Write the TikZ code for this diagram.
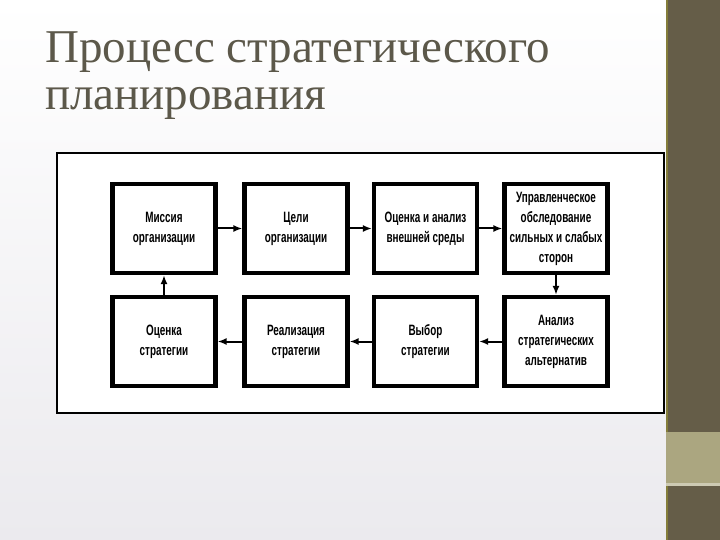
\documentclass[tikz,border=0pt]{standalone}
\usepackage{fontspec}
\setmainfont{Liberation Serif}
\newfontfamily\boxfont[FakeStretch=0.66]{Liberation Sans}
\usetikzlibrary{arrows.meta}
\definecolor{band}{RGB}{101,93,72}
\definecolor{khaki}{RGB}{171,166,128}
\definecolor{titlecol}{RGB}{92,88,74}
\definecolor{bgbottom}{RGB}{235,234,238}
\tikzset{
  stagebox/.style={draw=black, fill=white, line width=4.2bp, minimum width=103bp,
    minimum height=89bp, inner sep=0pt, align=center,
    font=\boxfont\bfseries\fontsize{15bp}{20bp}\selectfont},
  flow/.style={line width=2bp, -{Latex[length=9bp,width=7bp]}},
  titletext/.style={anchor=base west, inner sep=0pt, text=titlecol,
    font=\fontsize{47bp}{47bp}\selectfont}
}
\begin{document}
\begin{tikzpicture}[x=1bp, y=-1bp]
\useasboundingbox (0,0) rectangle (720,540);
% background
\shade[top color=white, bottom color=bgbottom] (0,0) rectangle (667,540);
\fill[band] (666,0) rectangle (720,540);
\fill[band!80!yellow] (666,0) rectangle (668,540);
\fill[khaki] (666,432) rectangle (720,486);
\fill[khaki!60!white] (666,483) rectangle (720,486);
% title
\node[titletext] (t1) at (45,63) {Процесс стратегического};
\node[titletext] (t2) at (45,110) {планирования};
% frame
\draw[line width=1.5bp, fill=white] (57,153) rectangle (664,413);
% boxes
\node[stagebox] (b1) at (164,228.5) {Миссия\\организации};
\node[stagebox] (b2) at (296,228.5) {Цели\\организации};
\node[stagebox] (b3) at (425.5,228.5) {Оценка и анализ\\внешней среды};
\node[stagebox] (b4) at (556,228.5) {Управленческое\\обследование\\сильных и слабых\\сторон};
\node[stagebox] (b5) at (164,341.5) {Оценка\\стратегии};
\node[stagebox] (b6) at (296,341.5) {Реализация\\стратегии};
\node[stagebox] (b7) at (425.5,341.5) {Выбор\\стратегии};
\node[stagebox] (b8) at (556,341.5) {Анализ\\стратегических\\альтернатив};
% connectors
\draw[flow] (b1) -- (b2);
\draw[flow] (b2) -- (b3);
\draw[flow] (b3) -- (b4);
\draw[flow] (b4) -- (b8);
\draw[flow] (b8) -- (b7);
\draw[flow] (b7) -- (b6);
\draw[flow] (b6) -- (b5);
\draw[flow] (b5) -- (b1);
\end{tikzpicture}
\end{document}
